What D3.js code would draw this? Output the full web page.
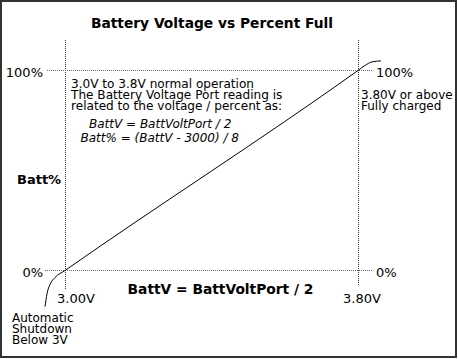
<!DOCTYPE html>
<html><head><meta charset="utf-8">
<script src="https://cdn.jsdelivr.net/npm/d3@7"></script>
<style>body{margin:0;background:#fff}svg{display:block}text{font-family:"DejaVu Sans",sans-serif;fill:#000}</style>
</head><body><svg id="c" width="458" height="359"></svg>
<script>
const voltage = [2.9454, 2.9509, 2.959, 2.9727, 3.0, 3.8, 3.8191, 3.8382, 3.8628];
const percent = [-18.1, -11.6, -7.0, -3.5, 0, 100, 102.5, 104.3, 104.8];
const voltTicks = [3.0, 3.8];
const voltTickLabels = ["3.00V", "3.80V"];
const pctTicks = [0, 100];
const pctTickLabels = ["0%", "100%"];
const noteLines = ["3.0V to 3.8V normal operation", "The Battery Voltage Port reading is", "related to the voltage / percent as:"];
const formulaLines = ["BattV = BattVoltPort / 2", "Batt% = (BattV - 3000) / 8"];
const fullLines = ["3.80V or above", "Fully charged"];
const shutdownLines = ["Automatic", "Shutdown", "Below 3V"];

const svg = d3.select("#c");
const x = d3.scaleLinear().domain([3.0, 3.8]).range([65, 358]);
const y = d3.scaleLinear().domain([0, 100]).range([270.5, 70.5]);

svg.append("rect").attr("x",1).attr("y",1).attr("width",455).attr("height",356)
  .attr("fill","#fff").attr("stroke","#333").attr("stroke-width",2);

svg.append("text").attr("x",212).attr("y",27.5).attr("text-anchor","middle")
  .attr("font-weight","bold").attr("font-size",13.8).text("Battery Voltage vs Percent Full");

// dotted grid
voltTicks.forEach((v,i)=>{
  svg.append("line").attr("x1",Math.round(x(v))+0.5).attr("x2",Math.round(x(v))+0.5)
    .attr("y1",40).attr("y2",i===0?289:285)
    .attr("stroke","#333").attr("stroke-width",1).attr("stroke-dasharray","1,1");
});
pctTicks.forEach((p,i)=>{
  svg.append("line").attr("x1",i===0?45:47).attr("x2",373)
    .attr("y1",y(p)).attr("y2",y(p))
    .attr("stroke","#666").attr("stroke-width",1).attr("stroke-dasharray","1,1");
});

// tick labels
pctTicks.forEach((p,i)=>{
  svg.append("text").attr("x",43).attr("y",y(p)+6).attr("text-anchor","end")
    .attr("font-size",13).text(pctTickLabels[i]);
  svg.append("text").attr("x",376).attr("y",y(p)+6.5)
    .attr("font-size",13).text(pctTickLabels[i]);
});
voltTicks.forEach((v,i)=>{
  svg.append("text").attr("x",i===0?x(v)-8:x(v)-15).attr("y",303)
    .attr("font-size",13).text(voltTickLabels[i]);
});

// axis titles
svg.append("text").attr("x",17).attr("y",184).attr("font-weight","bold").attr("font-size",13).text("Batt%");
svg.append("text").attr("x",220.5).attr("y",294).attr("text-anchor","middle")
  .attr("font-weight","bold").attr("font-size",13.8).text("BattV = BattVoltPort / 2");

// curve
const line = d3.line().x((d,i)=>x(voltage[i])).y((d,i)=>y(percent[i])).curve(d3.curveMonotoneX);
svg.append("path").attr("d", line(voltage)).attr("fill","none").attr("stroke","#000").attr("stroke-width",1);

// notes
const multi = (lines, x0, y0, dy, size, style) => {
  lines.forEach((t,i)=>{
    const tx = svg.append("text").attr("x", Array.isArray(x0)?x0[i]:x0).attr("y", y0+i*dy)
      .attr("font-size", size).text(t);
    if (style) tx.attr("font-style", style);
  });
};
multi(noteLines, 71, 87.5, 11, 12.1);
multi(formulaLines, [89, 80.5], 128.3, 13.4, 12, "italic");
multi(fullLines, 361, 99, 11, 12);
multi(shutdownLines, 12, 321.7, 11.2, 12);
</script></body></html>
